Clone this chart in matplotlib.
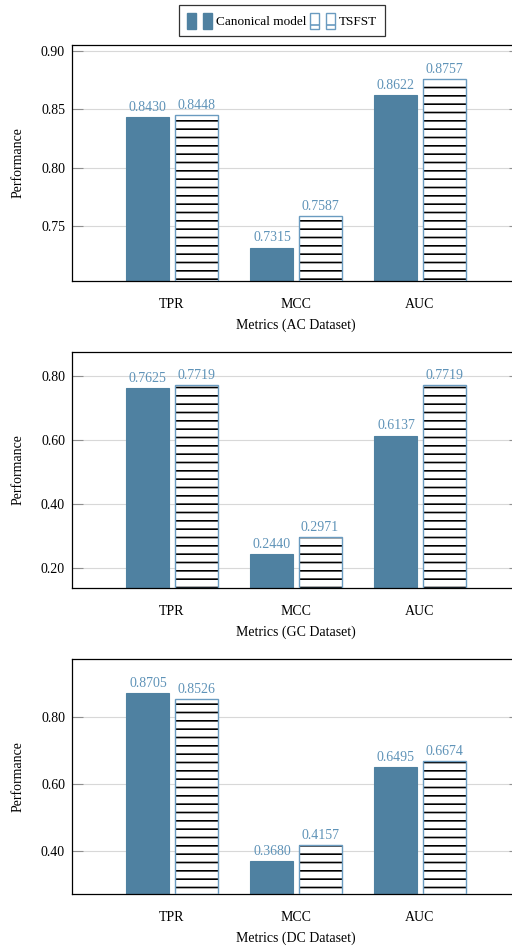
import matplotlib
matplotlib.use("Agg")
import matplotlib.pyplot as plt
from matplotlib.patches import Rectangle
from matplotlib.legend_handler import HandlerTuple
import numpy as np

plt.rcParams['font.family'] = ['Liberation Serif', 'DejaVu Serif']
plt.rcParams['hatch.linewidth'] = 1.2

categories = ["TPR", "MCC", "AUC"]
series_names = ["Canonical model", "TSFST"]

ac_canonical = [0.8430, 0.7315, 0.8622]
ac_tsfst = [0.8448, 0.7587, 0.8757]
gc_canonical = [0.7625, 0.2440, 0.6137]
gc_tsfst = [0.7719, 0.2971, 0.7719]
dc_canonical = [0.8705, 0.3680, 0.6495]
dc_tsfst = [0.8526, 0.4157, 0.6674]

xlabels = ["Metrics (AC Dataset)", "Metrics (GC Dataset)", "Metrics (DC Dataset)"]
yticks_list = [[0.75, 0.80, 0.85, 0.90], [0.20, 0.40, 0.60, 0.80], [0.40, 0.60, 0.80]]
ylims = [(0.7029, 0.9051), (0.1375, 0.875), (0.271, 0.972)]

FILL = '#4f81a1'
LABEL_C = '#5f93b8'
EDGE_C = '#6a9bc0'
FS = 10

fig = plt.figure(figsize=(5.12, 9.51), dpi=100)

left = 72 / 512
width = (520 - 72) / 512
H = 951
boxes = [(281, 236), (588, 236), (894, 235)]

datasets = [(ac_canonical, ac_tsfst), (gc_canonical, gc_tsfst), (dc_canonical, dc_tsfst)]
x = np.arange(len(categories))
bw = 0.347
off = 0.194

for i, ((canon, tsfst), (bot, h)) in enumerate(zip(datasets, boxes)):
    ax = fig.add_axes([left, 1 - bot / H, width, h / H])
    ax.set_xlim(-0.806, 2.806)
    ax.set_ylim(*ylims[i])
    ax.set_yticks(yticks_list[i])
    ax.set_yticklabels([f"{v:.2f}" for v in yticks_list[i]], fontsize=FS)
    ax.set_xticks(x)
    ax.set_xticklabels(categories, fontsize=FS)
    ax.tick_params(axis='x', length=0, pad=12)
    ax.tick_params(axis='y', direction='in', length=8, width=0.8, color='#909090',
                   left=True, right=True, pad=5)
    ax.yaxis.grid(True, color='#d8d8d8', linewidth=0.8)
    ax.set_axisbelow(True)
    for s in ['left', 'top', 'bottom', 'right']:
        ax.spines[s].set_linewidth(0.9)
        ax.spines[s].set_color('black')
    ax.set_ylabel("Performance", fontsize=FS)
    ax.set_xlabel(xlabels[i], fontsize=FS, labelpad=6)

    b0 = ylims[i][0]
    c = [v - b0 for v in canon]
    t = [v - b0 for v in tsfst]
    ax.bar(x - off, c, bw, bottom=b0, color=FILL, edgecolor=FILL, linewidth=0.8, zorder=2)
    ax.bar(x + off, t, bw, bottom=b0, color='white', edgecolor='black', hatch='--',
           linewidth=0, zorder=2)
    ax.bar(x + off, t, bw, bottom=b0, fill=False, edgecolor=EDGE_C, linewidth=1.0, zorder=3)

    for xi, v in zip(x - off, canon):
        ax.annotate(f"{v:.4f}", (xi, v), xytext=(0, 4.5), textcoords='offset points',
                    ha='center', va='baseline', fontsize=FS, color=LABEL_C)
    for xi, v in zip(x + off, tsfst):
        ax.annotate(f"{v:.4f}", (xi, v), xytext=(0, 4.5), textcoords='offset points',
                    ha='center', va='baseline', fontsize=FS, color=LABEL_C)

    ax.yaxis.set_label_coords(-0.105, 0.5)

# legend
h1 = (Rectangle((0, 0), 1, 1, facecolor=FILL, edgecolor=FILL),
      Rectangle((0, 0), 1, 1, facecolor=FILL, edgecolor=FILL))
h2 = (Rectangle((0, 0), 1, 1, facecolor='white', edgecolor=EDGE_C, hatch='-'),
      Rectangle((0, 0), 1, 1, facecolor='white', edgecolor=EDGE_C, hatch='-'))
leg = fig.legend([h1, h2], series_names, loc='center', bbox_to_anchor=(0.551, 0.978),
                 ncol=2, fontsize=9.5, frameon=True, fancybox=False, edgecolor='black',
                 handler_map={tuple: HandlerTuple(ndivide=None, pad=0.55)},
                 handlelength=1.9, handleheight=1.4, handletextpad=0.3, columnspacing=0.3,
                 borderpad=0.6, borderaxespad=0)
leg.get_frame().set_linewidth(0.9)

fig.savefig("out.png", dpi=100)
